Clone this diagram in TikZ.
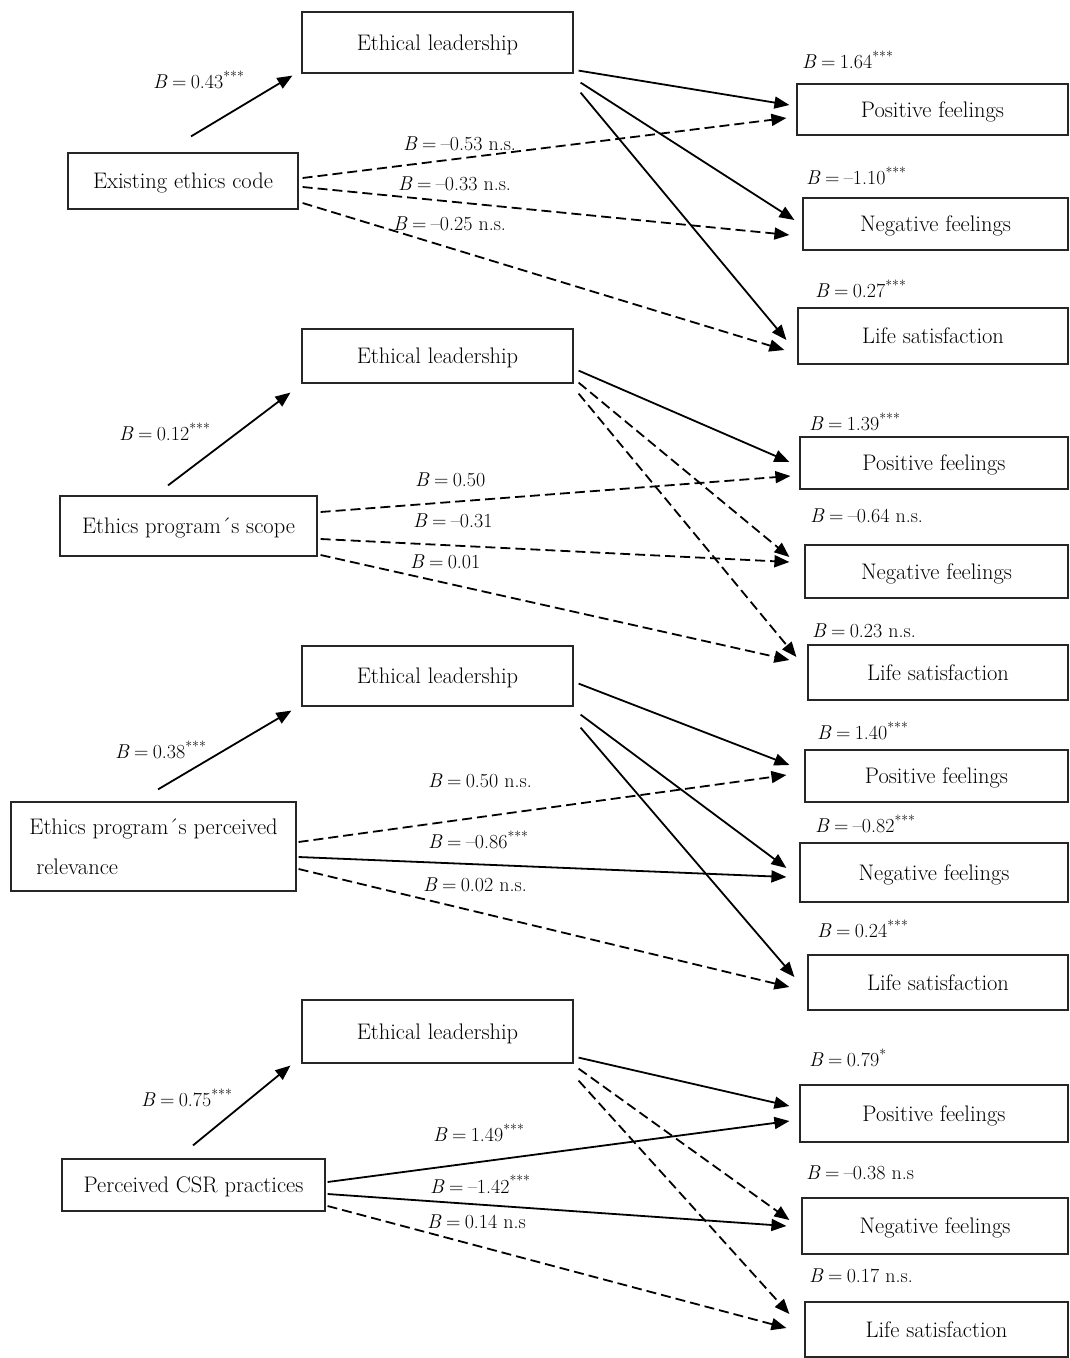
\documentclass[tikz,border=0pt]{standalone}
\usepackage{fontspec}
\usetikzlibrary{arrows.meta,calc}
\newcommand{\eqB}{\textit{B}\kern.22em=\kern.22em}
\begin{document}
\begin{tikzpicture}[x=1pt,y=-1pt,
  box/.style={draw=black!85,line width=1.2pt,inner sep=0pt,text depth=0pt,font=\fontsize{22.5}{26}\selectfont},
  lab/.style={anchor=west,inner sep=0pt,font=\fontsize{20}{24}\selectfont},
  sol/.style={line width=1.8pt,-{Triangle[length=15pt,width=12pt]}},
  das/.style={sol,dash pattern=on 10pt off 5pt}]
\fill[white] (0,0) rectangle (1070,1358);
\useasboundingbox (0,0) rectangle (1070,1358);

% ---------------- Group 1 ----------------
\node[box,minimum width=271pt,minimum height=61pt] (EL1) at (437.5,42.5) {Ethical leadership};
\node[box,minimum width=230pt,minimum height=56pt] (EEC) at (183,181) {Existing ethics code};
\node[box,minimum width=271pt,minimum height=51pt] (PF1) at (932.5,109.5) {Positive feelings};
\node[box,minimum width=265pt,minimum height=52pt] (NF1) at (935.5,224) {Negative feelings};
\node[box,minimum width=270pt,minimum height=56pt] (LS1) at (933,336) {Life satisfaction};

\draw[sol] ([shift={(8,-16)}]EEC.north) -- ([shift={(-9,2)}]EL1.south west);
\draw[sol] ([shift={(5,-3)}]EL1.south east) -- ([shift={(-7,-4.5)}]PF1.west);
\draw[sol] ([shift={(7,9)}]EL1.south east) -- ([shift={(-8,-4)}]NF1.west);
\draw[sol] ([shift={(7,19)}]EL1.south east) -- ([shift={(-11,4)}]LS1.west);
\draw[das] ([shift={(4,-3)}]EEC.east) -- ([shift={(-10,8.5)}]PF1.west);
\draw[das] ([shift={(4,6)}]EEC.east) -- ([shift={(-13,11)}]NF1.west);
\draw[das] ([shift={(4,22)}]EEC.east) -- ([shift={(-13,14)}]LS1.west);

\node[lab] (l1a) at (153,80) {\eqB 0.43\textsuperscript{***}};
\node[lab] (l1b) at (802,60) {\eqB 1.64\textsuperscript{***}};
\node[lab] (l1c) at (806,176) {\eqB –1.10\textsuperscript{***}};
\node[lab] (l1d) at (815,289) {\eqB 0.27\textsuperscript{***}};
\node[lab] (l1e) at (403,144) {\eqB –0.53 n.s.};
\node[lab] (l1f) at (398,184) {\eqB –0.33 n.s.};
\node[lab] (l1g) at (393,224) {\eqB –0.25 n.s.};

% ---------------- Group 2 ----------------
\node[box,minimum width=271pt,minimum height=54pt] (EL2) at (437.5,356) {Ethical leadership};
\node[box,minimum width=257pt,minimum height=60pt] (EPS) at (188.5,526) {Ethics program´s scope};
\node[box,minimum width=268pt,minimum height=52pt] (PF2) at (934,463) {Positive feelings};
\node[box,minimum width=263pt,minimum height=53pt] (NF2) at (936.5,571.5) {Negative feelings};
\node[box,minimum width=260pt,minimum height=55pt] (LS2) at (938,672.5) {Life satisfaction};

\draw[sol] ([shift={(-20.5,-10)}]EPS.north) -- ([shift={(-11,9)}]EL2.south west);
\draw[sol] ([shift={(5,-13)}]EL2.south east) -- ([shift={(-10,-1)}]PF2.west);
\draw[das] ([shift={(5,-1)}]EL2.south east) -- ([shift={(-15,-14.5)}]NF2.west);
\draw[das] ([shift={(5,10)}]EL2.south east) -- ([shift={(-11,-15.5)}]LS2.west);
\draw[das] ([shift={(3,-14)}]EPS.east) -- ([shift={(-9,13)}]PF2.west);
\draw[das] ([shift={(3,13)}]EPS.east) -- ([shift={(-15,-9.5)}]NF2.west);
\draw[das] ([shift={(3,29)}]EPS.east) -- ([shift={(-18,-12.5)}]LS2.west);

\node[lab] (l2a) at (119,432) {\eqB 0.12\textsuperscript{***}};
\node[lab] (l2b) at (809,422) {\eqB 1.39\textsuperscript{***}};
\node[lab] (l2c) at (810,516) {\eqB –0.64 n.s.};
\node[lab] (l2d) at (812,631) {\eqB 0.23 n.s.};
\node[lab] (l2e) at (415,480) {\eqB 0.50};
\node[lab] (l2f) at (413,521) {\eqB –0.31};
\node[lab] (l2g) at (410,562) {\eqB 0.01};

% ---------------- Group 3 ----------------
\node[box,minimum width=271pt,minimum height=60pt] (EL3) at (437.5,676) {Ethical leadership};
\node[box,minimum width=285pt,minimum height=89pt,align=left] (EPPR) at (153.5,846.5)
  {Ethics program´s perceived\\[14pt]\hspace*{7pt}relevance};
\node[box,minimum width=263pt,minimum height=52pt] (PF3) at (936.5,776) {Positive feelings};
\node[box,minimum width=268pt,minimum height=59pt] (NF3) at (934,872.5) {Negative feelings};
\node[box,minimum width=260pt,minimum height=55pt] (LS3) at (938,982.5) {Life satisfaction};

\draw[sol] ([shift={(4.5,-12)}]EPPR.north) -- ([shift={(-10,4)}]EL3.south west);
\draw[sol] ([shift={(5,-23)}]EL3.south east) -- ([shift={(-15,-11)}]PF3.west);
\draw[sol] ([shift={(7,8)}]EL3.south east) -- ([shift={(-13,-4.5)}]NF3.west);
\draw[sol] ([shift={(7,21)}]EL3.south east) -- ([shift={(-13,-5.5)}]LS3.west);
\draw[das] ([shift={(2,-4.5)}]EPPR.east) -- ([shift={(-18,-1)}]PF3.west);
\draw[sol] ([shift={(2,10.5)}]EPPR.east) -- ([shift={(-13,4.5)}]NF3.west);
\draw[das] ([shift={(2,22.5)}]EPPR.east) -- ([shift={(-18,4.5)}]LS3.west);

\node[lab] (l3a) at (115,750) {\eqB 0.38\textsuperscript{***}};
\node[lab] (l3b) at (817,731) {\eqB 1.40\textsuperscript{***}};
\node[lab] (l3c) at (815,824) {\eqB –0.82\textsuperscript{***}};
\node[lab] (l3d) at (817,929) {\eqB 0.24\textsuperscript{***}};
\node[lab] (l3e) at (428,781) {\eqB 0.50 n.s.};
\node[lab] (l3f) at (428,840) {\eqB –0.86\textsuperscript{***}};
\node[lab] (l3g) at (423,885) {\eqB 0.02 n.s.};

% ---------------- Group 4 ----------------
\node[box,minimum width=271pt,minimum height=63pt] (EL4) at (437.5,1031.5) {Ethical leadership};
\node[box,minimum width=263pt,minimum height=52pt] (CSR) at (193.5,1185) {Perceived CSR practices};
\node[box,minimum width=268pt,minimum height=57pt] (PF4) at (934,1113.5) {Positive feelings};
\node[box,minimum width=266pt,minimum height=56pt] (NF4) at (935,1226) {Negative feelings};
\node[box,minimum width=263pt,minimum height=55pt] (LS4) at (936.5,1329.5) {Life satisfaction};

\draw[sol] ([shift={(-0.5,-13)}]CSR.north) -- ([shift={(-11,2)}]EL4.south west);
\draw[sol] ([shift={(5,-6)}]EL4.south east) -- ([shift={(-10,-7.5)}]PF4.west);
\draw[das] ([shift={(5,5)}]EL4.south east) -- ([shift={(-12,-6)}]NF4.west);
\draw[das] ([shift={(5,17)}]EL4.south east) -- ([shift={(-15,-15.5)}]LS4.west);
\draw[sol] ([shift={(2,-3)}]CSR.east) -- ([shift={(-10,7.5)}]PF4.west);
\draw[sol] ([shift={(2,9)}]CSR.east) -- ([shift={(-15,0)}]NF4.west);
\draw[das] ([shift={(2,21)}]CSR.east) -- ([shift={(-18,-1.5)}]LS4.west);

\node[lab] (l4a) at (141,1098) {\eqB 0.75\textsuperscript{***}};
\node[lab] (l4b) at (809,1058) {\eqB 0.79\textsuperscript{*}};
\node[lab] (l4c) at (806,1173) {\eqB –0.38 n.s};
\node[lab] (l4d) at (809,1276) {\eqB 0.17 n.s.};
\node[lab] (l4e) at (433,1133) {\eqB 1.49\textsuperscript{***}};
\node[lab] (l4f) at (430,1184) {\eqB –1.42\textsuperscript{***}};
\node[lab] (l4g) at (427,1222) {\eqB 0.14 n.s};
\end{tikzpicture}
\end{document}
